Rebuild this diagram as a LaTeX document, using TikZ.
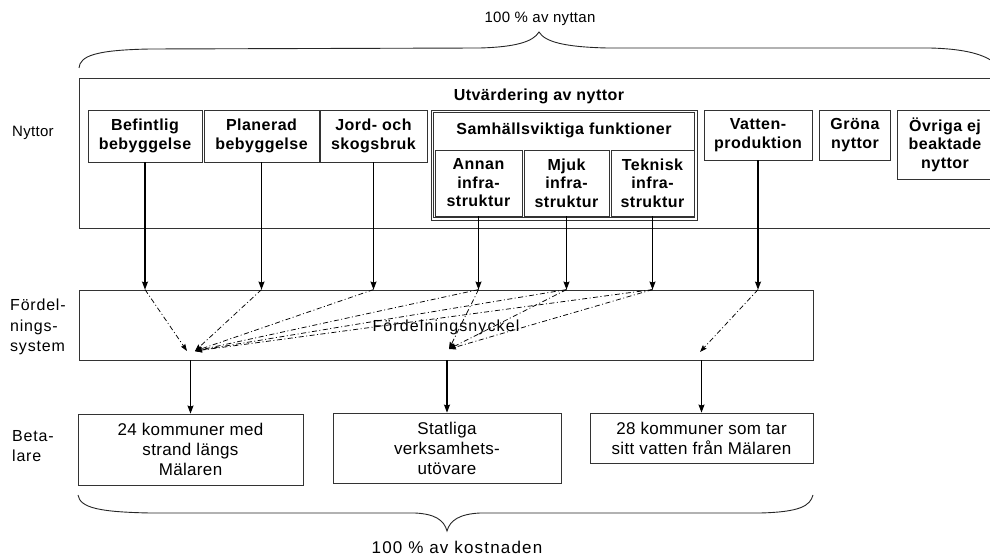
\documentclass[tikz,border=0pt]{standalone}
\usepackage{fontspec}
\setmainfont{Liberation Sans}
\newfontfamily\myBx{Liberation Sans}[LetterSpace=3]
\newfontfamily\myLab{Liberation Sans}[LetterSpace=5]
\newfontfamily\myWide{Liberation Sans}[LetterSpace=7]
\newfontfamily\myNt{Liberation Sans}[LetterSpace=2]
\usetikzlibrary{arrows.meta}
\begin{document}
\begin{tikzpicture}[x=1pt,y=-1pt,
  box/.style={draw=black!80, line width=0.8pt, inner sep=0pt, align=center},
  bt/.style={font=\myBx\bfseries\fontsize{16}{18.5}\selectfont, align=center},
  lab/.style={font=\myLab\fontsize{16}{20.5}\selectfont, align=left, anchor=west, inner sep=0pt},
  bot/.style={font=\myNt\fontsize{17}{20}\selectfont, align=center},
  arr/.style={-{Stealth[length=8pt,width=6pt,inset=1pt]}, line width=1.1pt, black},
  darr/.style={-{Stealth[length=7pt,width=5pt,inset=1pt]}, line width=0.75pt, black,
               dash pattern=on 5pt off 2.5pt on 1pt off 2.5pt},
  brace/.style={line width=0.9pt, black!85}]
\useasboundingbox (0,0) rectangle (990,556);
\clip (0,0) rectangle (990,556);

% top label and brace
\node[font=\myNt\fontsize{15}{18}\selectfont] (topl) at (540,19) {100 \% av nyttan};
\draw[brace] (79,68) .. controls (80,56) and (95,50) .. (150,49) -- (480,48)
  .. controls (515,47) and (533,42) .. (539,32)
  .. controls (545,42) and (565,47) .. (607,48) -- (930,48)
  .. controls (970,49) and (990,56) .. (1000,68);

% left labels
\node[lab, font=\myNt\fontsize{15}{18}\selectfont] (lny) at (12,133) {Nyttor};
\node[lab] (lfs) at (10,327) {Fördel-\\nings-\\system};
\node[lab] (lbe) at (12,446) {Beta-\\lare};

% benefits box
\node[box, minimum width=931, minimum height=150] (nytt) at (544.5,153) {};
\node[bt] (utv) at (539,96) {Utvärdering av nyttor};
\node[box, bt, minimum width=114, minimum height=52] (bef) at (145,136) {Befintlig\\bebyggelse};
\node[box, bt, minimum width=115, minimum height=52] (pla) at (261.5,136) {Planerad\\bebyggelse};
\node[box, bt, minimum width=107, minimum height=52] (jor) at (373.5,136) {Jord- och\\skogsbruk};
\node[box, minimum width=266, minimum height=110] (sam) at (564,165) {};
\node[box, minimum width=261, minimum height=105] (samin) at (564,165) {};
\node[bt] (samt) at (564,130) {Samhällsviktiga funktioner};
\node[box, bt, minimum width=87, minimum height=66] (ann) at (478.5,183) {Annan\\infra-\\struktur};
\node[box, bt, minimum width=85, minimum height=66] (mju) at (566.5,183) {Mjuk\\infra-\\struktur};
\node[box, bt, minimum width=83, minimum height=66] (tek) at (652.5,183) {Teknisk\\infra-\\struktur};
\node[box, bt, minimum width=108, minimum height=50] (vat) at (758,135) {Vatten-\\produktion};
\node[box, bt, minimum width=71, minimum height=50] (gro) at (855,135) {Gröna\\nyttor};
\node[box, bt, minimum width=96, minimum height=69] (ovr) at (945,144.5) {Övriga ej\\beaktade\\nyttor};

% distribution system
\node[box, minimum width=734, minimum height=70] (fs) at (446,325) {};
\node[font=\myWide\fontsize{16}{18}\selectfont] (fsn) at (446,327) {Fördelningsnyckel};

\foreach \n in {bef,pla,jor,ann,mju,tek,vat}
  \draw[arr] (\n.south) -- (\n.south |- fs.north);

\coordinate (tA1) at (187,351);
\coordinate (tA2) at (195,351);
\coordinate (tB) at (449,349);
\coordinate (tC) at (700,352);
\draw[darr] (bef.south |- fs.north) -- (tA1);
\foreach \n in {pla,jor,ann,mju,tek}
  \draw[darr] (\n.south |- fs.north) -- (tA2);
\foreach \n in {ann,mju,tek}
  \draw[darr] (\n.south |- fs.north) -- (tB);
\draw[darr] (vat.south |- fs.north) -- (tC);

% payers
\node[box, bot, minimum width=225, minimum height=71] (b1) at (190.5,449.5) {24 kommuner med\\strand längs\\Mälaren};
\node[box, bot, minimum width=228, minimum height=70] (b2) at (447,448) {Statliga\\verksamhets-\\utövare};
\node[box, bot, minimum width=223, minimum height=50] (b3) at (701.5,438) {28 kommuner som tar\\sitt vatten från Mälaren};
\foreach \n in {b1,b2,b3}
  \draw[arr] (\n.north |- fs.south) -- (\n.north);

% bottom brace and label
\draw[brace] (78,495) .. controls (80,508) and (100,512) .. (150,513) -- (415,513)
  .. controls (435,514) and (444,520) .. (447,531)
  .. controls (450,520) and (460,514) .. (480,513) -- (760,513)
  .. controls (800,512) and (810,506) .. (813,495);
\node[font=\myWide\fontsize{17}{20}\selectfont] (kost) at (457,547) {100 \% av kostnaden};
\end{tikzpicture}
\end{document}
